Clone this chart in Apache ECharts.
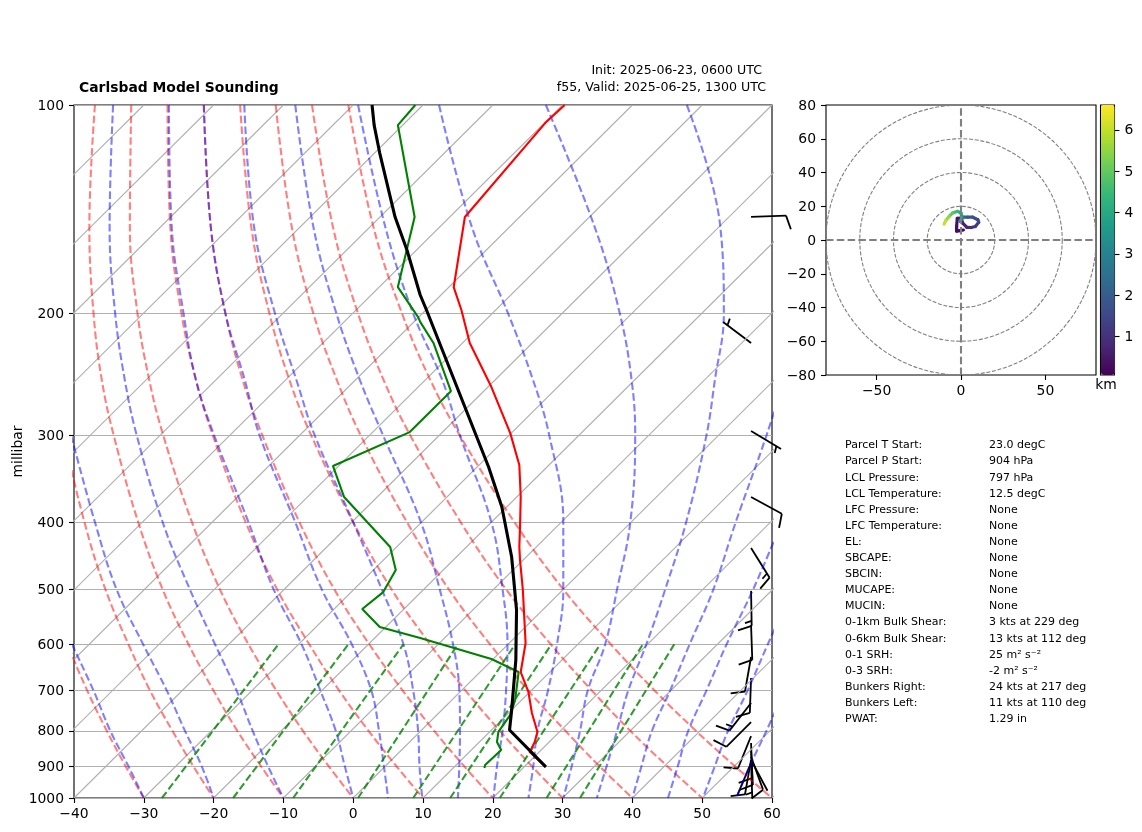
<!DOCTYPE html>
<html>
<head>
<meta charset="utf-8">
<style>
  html, body { margin: 0; padding: 0; background: #fff; }
  #main { width: 1142px; height: 832px; }
</style>
<script src="https://cdn.jsdelivr.net/npm/echarts@6/dist/echarts.min.js"></script>
</head>
<body>
<div id="main"></div>
<script>
// pressure ticks on the skew-T
var pressureTicks = [100, 200, 300, 400, 500, 600, 700, 800, 900, 1000];
var levels = [100, 150, 200, 250, 300, 400, 500, 600, 700, 800, 900, 1000];

// isotherms, x reading at the bottom and at the top of the plot
var isoBottom = [-130, -120, -110, -100, -90, -80, -70, -60, -50, -40, -30, -20, -10, 0, 10, 20, 30, 40, 50, 60];
var isoTop = [-30, -20, -10, 0, 10, 20, 30, 40, 50, 60, 70, 80, 90, 100, 110, 120, 130, 140, 150, 160];

// dry adiabats, x reading at each of levels
var dryAdiabats = [
  [-47.3, -49.4, -49.8, -49.4, -48.5, -46.2, -43.7, -40.9, -38.1, -35.3, -32.6, -30],
  [-42.1, -43.6, -43.5, -42.7, -41.4, -38.5, -35.5, -32.2, -29.1, -25.9, -22.9, -20],
  [-37, -37.8, -37.2, -36, -34.3, -30.8, -27.3, -23.6, -20, -16.6, -13.2, -10],
  [-31.8, -32, -30.9, -29.2, -27.2, -23.1, -19.1, -15, -11, -7.2, -3.5, 0],
  [-26.6, -26.2, -24.6, -22.5, -20.1, -15.4, -10.9, -6.3, -2, 2.2, 6.2, 10],
  [-21.4, -20.4, -18.3, -15.8, -13, -7.7, -2.7, 2.3, 7.1, 11.6, 15.9, 20],
  [-16.2, -14.6, -12, -9.1, -6, 0, 5.5, 11, 16.1, 21, 25.6, 30],
  [-11.1, -8.8, -5.7, -2.3, 1.1, 7.7, 13.7, 19.6, 25.1, 30.4, 35.3, 40],
  [-5.9, -2.9, 0.7, 4.4, 8.2, 15.4, 21.9, 28.3, 34.2, 39.7, 45, 50],
  [-0.7, 2.9, 7, 11.1, 15.3, 23.1, 30.1, 36.9, 43.2, 49.1, 54.7, 60]
];

// moist adiabats, x reading at the last levels (short ones leave the plot higher up)
var moistAdiabats = [
  [-40.3, -37.2, -34.8, -32.2, -30],
  [-40.4, -37, -33.9, -30.1, -26.7, -24.1, -21.7, -20],
  [-34.4, -34.9, -34.1, -32.7, -31, -27.3, -23.4, -19.8, -16.7, -14.4, -12.2, -10],
  [-26.4, -26, -24.3, -22.5, -19.9, -15, -11.4, -7.4, -4.7, -2.5, -1.2, 0],
  [-21.4, -20.4, -18.3, -15.5, -13.4, -8.3, -4.5, -0.2, 2.6, 3.7, 4.4, 5],
  [-15.6, -14.2, -11.2, -8.1, -5.5, 0, 4.1, 7.2, 8.6, 9.3, 9.5, 9.9],
  [-8.3, -5.7, -2.4, 1, 4.3, 9.7, 12.4, 14.3, 15.2, 15.3, 15.2, 15],
  [0.7, 4.6, 8.6, 12.8, 15.3, 19.8, 21.4, 22.1, 21.9, 21.4, 20.6, 20.1],
  [12.3, 17, 22.2, 25.8, 28.1, 30.1, 30.1, 29.2, 27.9, 26.4, 25.8, 25.1],
  [27.6, 34.6, 38.2, 39.9, 40.4, 39.7, 37.8, 36.1, 33.6, 32.5, 31.3, 30.1],
  [47.8, 52.6, 53.1, 51.8, 50.6, 47.7, 44.7, 42, 39.4, 37.8, 36.3, 34.9],
  [61.7, 59.2, 54.8, 51.6, 48.2, 45.4, 42.8, 41.3, 40],
  [61.4, 57.3, 53.5, 50.6, 48, 46.5, 45.1],
  [63, 59.4, 56.5, 53.7, 51.8, 50.1],
  [61.8, 59.2, 56.8, 54.9]
];

// mixing ratio lines, x reading at 1000 and at 600 hPa
var mixBottom = [-27.4, -17.2, -8.6, 0.7, 8.6, 13.9, 21, 27.7, 32.5];
var mixTop = [-10.7, -0.7, 7.2, 15, 23.2, 28.4, 35.4, 41.5, 46];

// temperature profile
var tempP = [100, 106.2, 145.1, 183.1, 197.6, 220.5, 255.3, 297.5, 330.7, 367.9, 406.4, 434.2, 453.6, 500, 597.5, 658, 703, 754, 803, 830, 858, 902];
var tempX = [30.3, 27.5, 16, 14.4, 15.5, 16.7, 19.8, 22.5, 23.8, 24, 23.9, 23.8, 23.9, 24.3, 24.7, 24, 25.1, 25.6, 26.4, 26, 25.3, 27.6];

// dewpoint profile
var dewP = [100, 106.9, 145.1, 183.1, 202.3, 205.6, 220.5, 258.8, 296.5, 331.8, 367.9, 434.2, 468.8, 504.5, 533.6, 566.6, 587.5, 630, 658, 722.2, 758.8, 803, 830, 852.6, 896.1, 905];
var dewX = [8.9, 6.4, 8.8, 6.4, 9.3, 9.6, 11.5, 14, 8.1, -2.9, -1.3, 5.3, 6.1, 4.3, 1.3, 3.8, 9.6, 19.8, 23.7, 23.2, 22.5, 20.8, 20.6, 21.2, 18.9, 18.8];

// parcel path
var parcelP = [100, 106.9, 117.3, 145.1, 161.9, 188, 197.6, 272.8, 333, 380.3, 449, 535.4, 632, 746.5, 797.7, 902];
var parcelX = [2.7, 3, 3.8, 6, 7.7, 9.6, 10.5, 16, 19.4, 21.3, 22.7, 23.4, 23.3, 22.7, 22.4, 27.6];

// wind barbs
var barbP = [145, 220.5, 295.4, 367.9, 435.8, 502.5, 562.6, 626, 671, 729.4, 777, 814, 833, 852.6, 881, 890, 890, 881, 872];
var barbDir = [88, 307, 121, 118.5, 148, 179, 178, 190, 182, 218, 225, 202, 178, 177, 190, 203, 178, 152, 160];
var barbKts = [10, 5, 5, 10, 15, 15, 10, 10, 10, 15, 10, 10, 10, 10, 10, 0, 5, 0, 10];
var barbColumn = 57;

// hodograph
var hodoU = [1.4, -1, -2.6, -2.6, -2.2, 0, 1, 3.5, 6, 8.5, 10.5, 10, 7, 4, 1.5, 0, -0.5, 0.5, 0, -2, -5, -7, -9, -10];
var hodoV = [5.9, 5.5, 5.3, 8, 12.8, 13, 10, 7.5, 7.4, 8, 10.5, 12, 13.5, 13.5, 13.5, 12, 11, 13, 16, 17, 16, 14, 11.5, 9.5];
var hodoKm = [0.1, 0.2, 0.3, 0.4, 0.5, 0.6, 0.7, 0.8, 1, 1.2, 1.4, 1.6, 1.8, 2, 2.4, 3, 3.3, 3.7, 4, 4.5, 5, 5.5, 6, 6.5];
var hodoRings = [20, 40, 60, 80];
var viridis = ["#440154", "#482878", "#3e4989", "#31688e", "#26828e", "#1f9e89", "#35b779", "#6ece58", "#b5de2b", "#fde725"];

// parcel table
var statLabels = ["Parcel T Start:", "Parcel P Start:", "LCL Pressure:", "LCL Temperature:", "LFC Pressure:", "LFC Temperature:", "EL:", "SBCAPE:", "SBCIN:", "MUCAPE:", "MUCIN:", "0-1km Bulk Shear:", "0-6km Bulk Shear:", "0-1 SRH:", "0-3 SRH:", "Bunkers Right:", "Bunkers Left:", "PWAT:"];
var statValues = ["23.0 degC", "904 hPa", "797 hPa", "12.5 degC", "None", "None", "None", "None", "None", "None", "None", "3 kts at 229 deg", "13 kts at 112 deg", "25 m\u00b2 s\u207b\u00b2", "-2 m\u00b2 s\u207b\u00b2", "24 kts at 217 deg", "11 kts at 110 deg", "1.29 in"];

var myChart = echarts.init(document.getElementById("main"));

var font = "DejaVu Sans";
var minus = function (v) { return String(v).replace("-", "\u2212"); };

function curve(points, color, opacity, width, dash, xi, yi, smooth) {
  return {
    type: "line",
    data: points,
    xAxisIndex: xi || 0,
    yAxisIndex: yi || 0,
    symbol: "none",
    smooth: smooth || false,
    silent: true,
    animation: false,
    lineStyle: { color: color, opacity: opacity, width: width, type: dash || "solid" },
  };
}

function pairs(xs, ps) {
  return xs.map(function (x, i) { return [x, ps[i]]; });
}

function drawBarb(params, api) {
  var i = params.dataIndex;
  var base = api.coord([api.value(0), api.value(1)]);
  var rad = (barbDir[i] * Math.PI) / 180;
  var d = [Math.sin(rad), -Math.cos(rad)];
  var perp = [-d[1], d[0]];
  var tip = [base[0] + 35 * d[0], base[1] + 35 * d[1]];
  var style = { stroke: "#000", lineWidth: 1.8, fill: null };
  var kids = [{ type: "line", shape: { x1: base[0], y1: base[1], x2: tip[0], y2: tip[1] }, style: style }];
  var feather = function (pos, len) {
    var sx = tip[0] - pos * d[0];
    var sy = tip[1] - pos * d[1];
    kids.push({
      type: "line",
      shape: { x1: sx, y1: sy, x2: sx + len * (0.95 * perp[0] + 0.3 * d[0]), y2: sy + len * (0.95 * perp[1] + 0.3 * d[1]) },
      style: style,
    });
  };
  var pos = 0;
  var tens = Math.floor(barbKts[i] / 10);
  for (var n = 0; n < tens; n++) {
    feather(pos, 14.5);
    pos += 5;
  }
  if (barbKts[i] % 10 >= 5) {
    feather(tens ? pos : 5.5, 7);
  }
  return { type: "group", children: kids };
}

function drawRing(params, api) {
  var c = api.coord([0, 0]);
  var r = api.size([api.value(0), 0])[0];
  return {
    type: "circle",
    shape: { cx: c[0], cy: c[1], r: r },
    style: { fill: null, stroke: "#808080", lineWidth: 1.1, lineDash: [4, 1.7] },
  };
}

function drawHodo(params, api) {
  var i = params.dataIndex;
  if (i >= hodoU.length - 1) return null;
  var a = api.coord([hodoU[i], hodoV[i]]);
  var b = api.coord([hodoU[i + 1], hodoV[i + 1]]);
  return {
    type: "line",
    shape: { x1: a[0], y1: a[1], x2: b[0], y2: b[1] },
    style: { stroke: api.visual("color"), lineWidth: 3.2, lineCap: "round" },
  };
}

var series = [];

isoBottom.forEach(function (b, i) {
  series.push(curve([[b, 1000], [isoTop[i], 100]], "#b0b0b0", 1, 1.1));
});
dryAdiabats.forEach(function (xs) {
  series.push(curve(pairs(xs, levels.slice(-xs.length)), "#ff0000", 0.5, 2.1, [7.5, 3.3], 0, 0, 0.4));
});
moistAdiabats.forEach(function (xs) {
  series.push(curve(pairs(xs, levels.slice(-xs.length)), "#0000ff", 0.5, 2.1, [7.5, 3.3], 0, 0, 0.4));
});
mixBottom.forEach(function (b, i) {
  series.push(curve([[b, 1000], [mixTop[i], 600]], "#008000", 0.8, 2.1, [7.5, 3.3]));
});
series.push({
  type: "custom",
  data: barbP.map(function (p) { return [barbColumn, p]; }),
  encode: { x: 0, y: 1 },
  renderItem: drawBarb,
  silent: true,
  z: 1,
  animation: false,
});
series.push(curve(pairs(tempX, tempP), "#ff0000", 1, 2.1));
series.push(curve(pairs(dewX, dewP), "#008000", 1, 2.1));
series.push(curve(pairs(parcelX, parcelP), "#000000", 1, 3.1));

// hodograph
series.push({
  type: "custom",
  xAxisIndex: 1,
  yAxisIndex: 1,
  data: hodoRings.map(function (r) { return [r, 0]; }),
  renderItem: drawRing,
  clip: true,
  silent: true,
  animation: false,
});
series.push(curve([[-80, 0], [80, 0]], "#808080", 1, 2.1, [7.5, 3.3], 1, 1));
series.push(curve([[0, -80], [0, 80]], "#808080", 1, 2.1, [7.5, 3.3], 1, 1));
var hodoIndex = series.length;
series.push({
  type: "custom",
  xAxisIndex: 1,
  yAxisIndex: 1,
  data: hodoU.map(function (u, i) { return [u, hodoV[i], hodoKm[i]]; }),
  encode: { x: 0, y: 1 },
  renderItem: drawHodo,
  silent: true,
  animation: false,
});

var tableText = [];
statLabels.forEach(function (s, i) {
  var y = 445.5 + i * 16.1;
  tableText.push({ type: "text", style: { x: 845, y: y, text: s, fontFamily: font, fontSize: 11, fill: "#000", textVerticalAlign: "middle" } });
  tableText.push({ type: "text", style: { x: 989, y: y, text: statValues[i], fontFamily: font, fontSize: 11, fill: "#000", textVerticalAlign: "middle" } });
});
tableText.push({ type: "text", style: { x: 1106, y: 385, text: "km", fontFamily: font, fontSize: 13.9, fill: "#000", textAlign: "center", textVerticalAlign: "middle" } });

var xLabelStyle = { color: "#000", fontFamily: font, fontSize: 13.9, formatter: minus, margin: 9 };
// rich token with top padding nudges the y labels down onto their ticks
var yLabelStyle = {
  margin: 10,
  formatter: function (v) { return "{a|" + minus(v) + "}"; },
  rich: { a: { color: "#000", fontFamily: font, fontSize: 13.9, padding: [2, 0, 0, 0] } },
};
var tickStyle = { length: 5, lineStyle: { color: "#000", width: 1.1 } };
var noLine = { show: false, onZero: false };

var option = {
  animation: false,
  textStyle: { fontFamily: font },
  title: [
    { text: "Carlsbad Model Sounding", left: 79, top: 81, padding: 0, textStyle: { fontFamily: font, fontSize: 13.9, fontWeight: "bold", color: "#000" } },
    { text: "Init: 2025-06-23, 0600 UTC", right: 380, top: 64, padding: 0, textStyle: { fontFamily: font, fontSize: 12.6, fontWeight: "normal", color: "#000" } },
    { text: "f55, Valid: 2025-06-25, 1300 UTC", right: 376, top: 81, padding: 0, textStyle: { fontFamily: font, fontSize: 12.6, fontWeight: "normal", color: "#000" } },
  ],
  grid: [
    { left: 74, top: 105, width: 698, height: 693, show: true, borderColor: "#000", borderWidth: 1.1, outerBoundsMode: "none" },
    { left: 826, top: 105, width: 270, height: 270, show: true, borderColor: "#000", borderWidth: 1.1, outerBoundsMode: "none" },
    { left: 1100.5, top: 105, width: 14, height: 270, show: true, borderColor: "#000", borderWidth: 1.1, outerBoundsMode: "none" },
  ],
  xAxis: [
    {
      type: "value", gridIndex: 0, min: -40, max: 60, interval: 10,
      splitLine: { show: false }, axisLine: noLine, axisTick: tickStyle, axisLabel: xLabelStyle,
    },
    {
      type: "value", gridIndex: 1, min: -80, max: 80,
      splitLine: { show: false }, axisLine: noLine,
      axisTick: Object.assign({ customValues: [-50, 0, 50] }, tickStyle),
      axisLabel: Object.assign({ customValues: [-50, 0, 50] }, xLabelStyle),
    },
    { type: "value", gridIndex: 2, min: 0, max: 1, show: false },
  ],
  yAxis: [
    {
      type: "log", logBase: 10, gridIndex: 0, min: 100, max: 1000, inverse: true,
      name: "millibar", nameLocation: "middle", nameGap: 49, nameMoveOverlap: false,
      nameTextStyle: { color: "#000", fontFamily: font, fontSize: 13.9 },
      axisLine: noLine,
      minorTick: { show: false },
      minorSplitLine: { show: false },
      splitLine: { show: true, lineStyle: { color: "#b0b0b0", width: 1.1 } },
      axisTick: Object.assign({ customValues: pressureTicks }, tickStyle),
      axisLabel: Object.assign({ customValues: pressureTicks }, yLabelStyle),
    },
    {
      type: "value", gridIndex: 1, min: -80, max: 80, interval: 20,
      splitLine: { show: false }, axisLine: noLine, axisTick: tickStyle, axisLabel: yLabelStyle,
    },
    {
      type: "value", gridIndex: 2, min: 0.07, max: 6.6, position: "right",
      splitLine: { show: false }, axisLine: noLine,
      axisTick: Object.assign({ customValues: [1, 2, 3, 4, 5, 6] }, tickStyle),
      axisLabel: Object.assign({ customValues: [1, 2, 3, 4, 5, 6] }, yLabelStyle),
    },
  ],
  visualMap: {
    type: "continuous",
    seriesIndex: hodoIndex,
    dimension: 2,
    min: 0.07,
    max: 6.6,
    left: 1101,
    top: 105,
    padding: 0,
    itemWidth: 13.5,
    itemHeight: 270,
    calculable: false,
    inRange: { color: viridis },
    text: null,
    showLabel: false,
  },
  graphic: tableText,
  series: series,
};

myChart.setOption(option);
window.addEventListener("resize", myChart.resize);
</script>
</body>
</html>
